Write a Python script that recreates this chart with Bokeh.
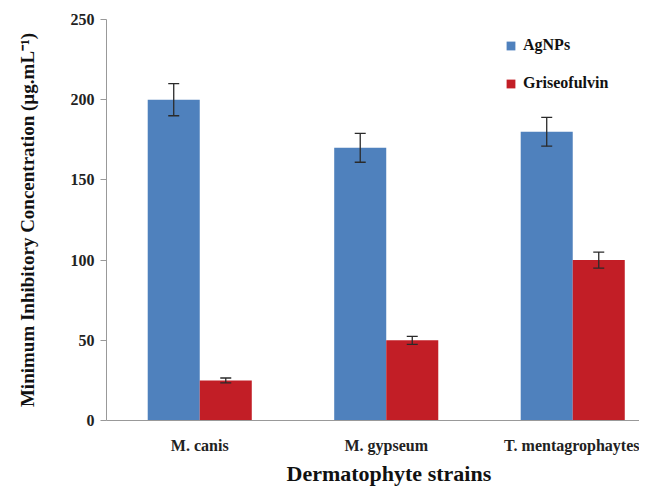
from bokeh.plotting import figure
from bokeh.models import ColumnDataSource, Whisker, TeeHead, FixedTicker, Legend, LegendItem, Range1d, Title
from bokeh.embed import file_html
from bokeh.resources import INLINE

strains = ["M. canis", "M. gypseum", "T. mentagrophaytes"]
agnps = [200, 170, 180]
agnps_err = [10, 9, 9]
griseo = [25, 50, 100]
griseo_err = [1.5, 2.5, 5]
yticks = [0, 50, 100, 150, 200, 250]

BLUE = "#4F81BD"
RED = "#C21E26"
FONT = "Liberation Serif"

xc = [i + 0.5 for i in range(len(strains))]
bw = 0.279
xa = [x - bw / 2 for x in xc]
xg = [x + bw / 2 for x in xc]

src_a = ColumnDataSource(dict(x=xa, top=agnps,
                              lo=[v - e for v, e in zip(agnps, agnps_err)],
                              hi=[v + e for v, e in zip(agnps, agnps_err)]))
src_g = ColumnDataSource(dict(x=xg, top=griseo,
                              lo=[v - e for v, e in zip(griseo, griseo_err)],
                              hi=[v + e for v, e in zip(griseo, griseo_err)]))

p = figure(width=639, height=488, output_backend="svg", toolbar_location=None,
           x_range=Range1d(0, 2.858), y_range=Range1d(0, 250),
           min_border_left=106, min_border_right=0, min_border_top=19, min_border_bottom=68)
p.outline_line_color = None
p.xgrid.visible = False
p.ygrid.visible = False

ra = p.vbar(x="x", top="top", width=bw, source=src_a, fill_color=BLUE, line_color=None)
rg = p.vbar(x="x", top="top", width=bw, source=src_g, fill_color=RED, line_color=None)

for s in (src_a, src_g):
    w = Whisker(source=s, base="x", lower="lo", upper="hi", level="overlay",
                line_color="#2a2a2a", line_width=1.3,
                upper_head=TeeHead(size=11, line_color="#2a2a2a", line_width=1.3),
                lower_head=TeeHead(size=11, line_color="#2a2a2a", line_width=1.3))
    p.add_layout(w)

# y axis
p.yaxis.ticker = FixedTicker(ticks=yticks)
p.yaxis.axis_line_color = "#999999"
p.yaxis.major_tick_line_color = "#999999"
p.yaxis.major_tick_out = 6
p.yaxis.major_tick_in = 0
p.yaxis.minor_tick_line_color = None
p.yaxis.major_label_text_font = FONT
p.yaxis.major_label_text_font_style = "bold"
p.yaxis.major_label_text_font_size = "16px"
p.yaxis.major_label_text_color = "#222222"
p.yaxis.major_label_standoff = 6
p.yaxis.axis_label = "Minimum Inhibitory Concentration (µg.mL⁻¹)"
p.yaxis.axis_label_text_font = FONT
p.yaxis.axis_label_text_font_style = "bold"
p.yaxis.axis_label_text_font_size = "19px"
p.yaxis.axis_label_text_color = "#111111"
p.yaxis.axis_label_standoff = 30

# x axis
p.xaxis.ticker = FixedTicker(ticks=xc)
p.xaxis.major_label_overrides = {x: s for x, s in zip(xc, strains)}
p.xaxis.axis_line_color = "#999999"
p.xaxis.major_tick_line_color = None
p.xaxis.major_tick_out = 0
p.xaxis.major_tick_in = 0
p.xaxis.minor_tick_line_color = None
p.xaxis.major_label_text_font = FONT
p.xaxis.major_label_text_font_style = "bold"
p.xaxis.major_label_text_font_size = "16px"
p.xaxis.major_label_text_color = "#222222"
p.xaxis.major_label_standoff = 16

xtitle = Title(text="Dermatophyte strains", align="left", offset=180,
               text_font=FONT, text_font_style="bold", text_font_size="22px",
               text_color="#111111", standoff=4)
p.add_layout(xtitle, "below")

legend = Legend(items=[LegendItem(label="AgNPs", renderers=[ra]),
                       LegendItem(label="Griseofulvin", renderers=[rg])],
                location=(399, 327), padding=0, margin=0, spacing=18,
                glyph_width=11, glyph_height=11, label_height=20, label_standoff=7,
                border_line_color=None, background_fill_alpha=0,
                label_text_font=FONT, label_text_font_style="bold",
                label_text_font_size="16px", label_text_color="#111111")
p.add_layout(legend)

open("out.html", "w").write(file_html(p, INLINE))
